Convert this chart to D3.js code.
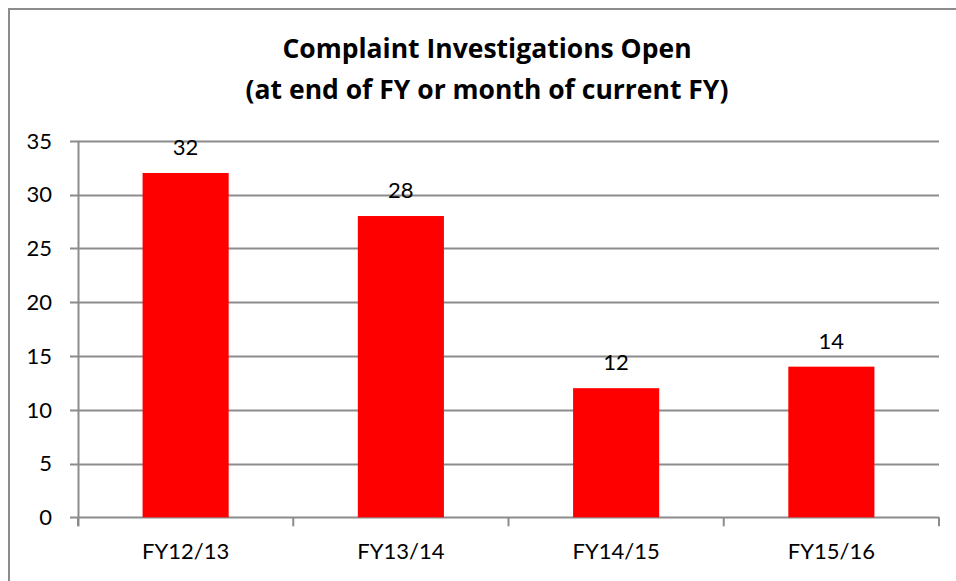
<!DOCTYPE html>
<html>
<head>
<meta charset="utf-8">
<script src="https://cdn.jsdelivr.net/npm/d3@7"></script>
<style>
  body { margin: 0; background: #fff; }
  svg { display: block; font-family: Lato, "Open Sans", sans-serif; }
</style>
</head>
<body>
<div id="graph"></div>
<script>
var width = 956, height = 581

var categories = ['FY12/13', 'FY13/14', 'FY14/15', 'FY15/16']
var values = [32, 28, 12, 14]
var yTicks = [0, 5, 10, 15, 20, 25, 30, 35]
var titleLines = ['Complaint Investigations Open', '(at end of FY or month of current FY)']

var grey = '#8c8c8c'
var m = {left: 78, right: 939, top: 140.7, bottom: 517.3}

var svg = d3.select('#graph').append('svg')
    .attr('width', width).attr('height', height)

// chart frame (runs past the right/bottom edge)
svg.append('rect')
    .attr('x', 9).attr('y', 9).attr('width', 980).attr('height', 620)
    .attr('fill', '#fff').attr('stroke', grey).attr('stroke-width', 2)

var x = d3.scaleBand().domain(categories).range([m.left, m.right]).paddingInner(0.6).paddingOuter(0.3)
var y = d3.scaleLinear().domain([0, 35]).range([m.bottom, m.top])

// gridlines
svg.append('g').selectAll('line').data(yTicks).join('line')
    .attr('x1', m.left - 8).attr('x2', m.right)
    .attr('y1', d => Math.round(y(d)) + 0.5).attr('y2', d => Math.round(y(d)) + 0.5)
    .attr('stroke', grey).attr('stroke-width', 2)

// y labels
svg.append('g').selectAll('text').data(yTicks).join('text')
    .attr('x', 52).attr('y', d => y(d)).attr('dy', '0.36em')
    .attr('text-anchor', 'end').attr('font-size', 22).attr('fill', '#000')
    .text(d => d)

// bars
svg.append('g').selectAll('rect').data(values).join('rect')
    .attr('x', (d, i) => x(categories[i]))
    .attr('width', x.bandwidth())
    .attr('y', d => y(d))
    .attr('height', d => y(0) - y(d))
    .attr('fill', '#ff0000')

// y axis line
svg.append('line')
    .attr('x1', m.left + 0.5).attr('x2', m.left + 0.5)
    .attr('y1', m.top).attr('y2', m.bottom + 9)
    .attr('stroke', grey).attr('stroke-width', 2)

// x tick marks at category boundaries
var step = (m.right - m.left) / categories.length
svg.append('g').selectAll('line').data(d3.range(categories.length + 1)).join('line')
    .attr('x1', i => m.left + i * step).attr('x2', i => m.left + i * step)
    .attr('y1', m.bottom).attr('y2', m.bottom + 9)
    .attr('stroke', grey).attr('stroke-width', 2)

// x labels
svg.append('g').selectAll('text').data(categories).join('text')
    .attr('x', d => x(d) + x.bandwidth() / 2).attr('y', 559)
    .attr('text-anchor', 'middle').attr('font-size', 22)
    .text(d => d)

// value labels
svg.append('g').selectAll('text').data(values).join('text')
    .attr('x', (d, i) => x(categories[i]) + x.bandwidth() / 2)
    .attr('y', d => y(d) - 18)
    .attr('text-anchor', 'middle').attr('font-size', 22)
    .text(d => d)

// title
svg.append('g').selectAll('text').data(titleLines).join('text')
    .attr('x', 487).attr('y', (d, i) => 58 + i * 41)
    .attr('text-anchor', 'middle').attr('font-size', 26.5).attr('font-weight', 'bold')
    .style('font-family', '"Open Sans", sans-serif')
    .text(d => d)
</script>
</body>
</html>
